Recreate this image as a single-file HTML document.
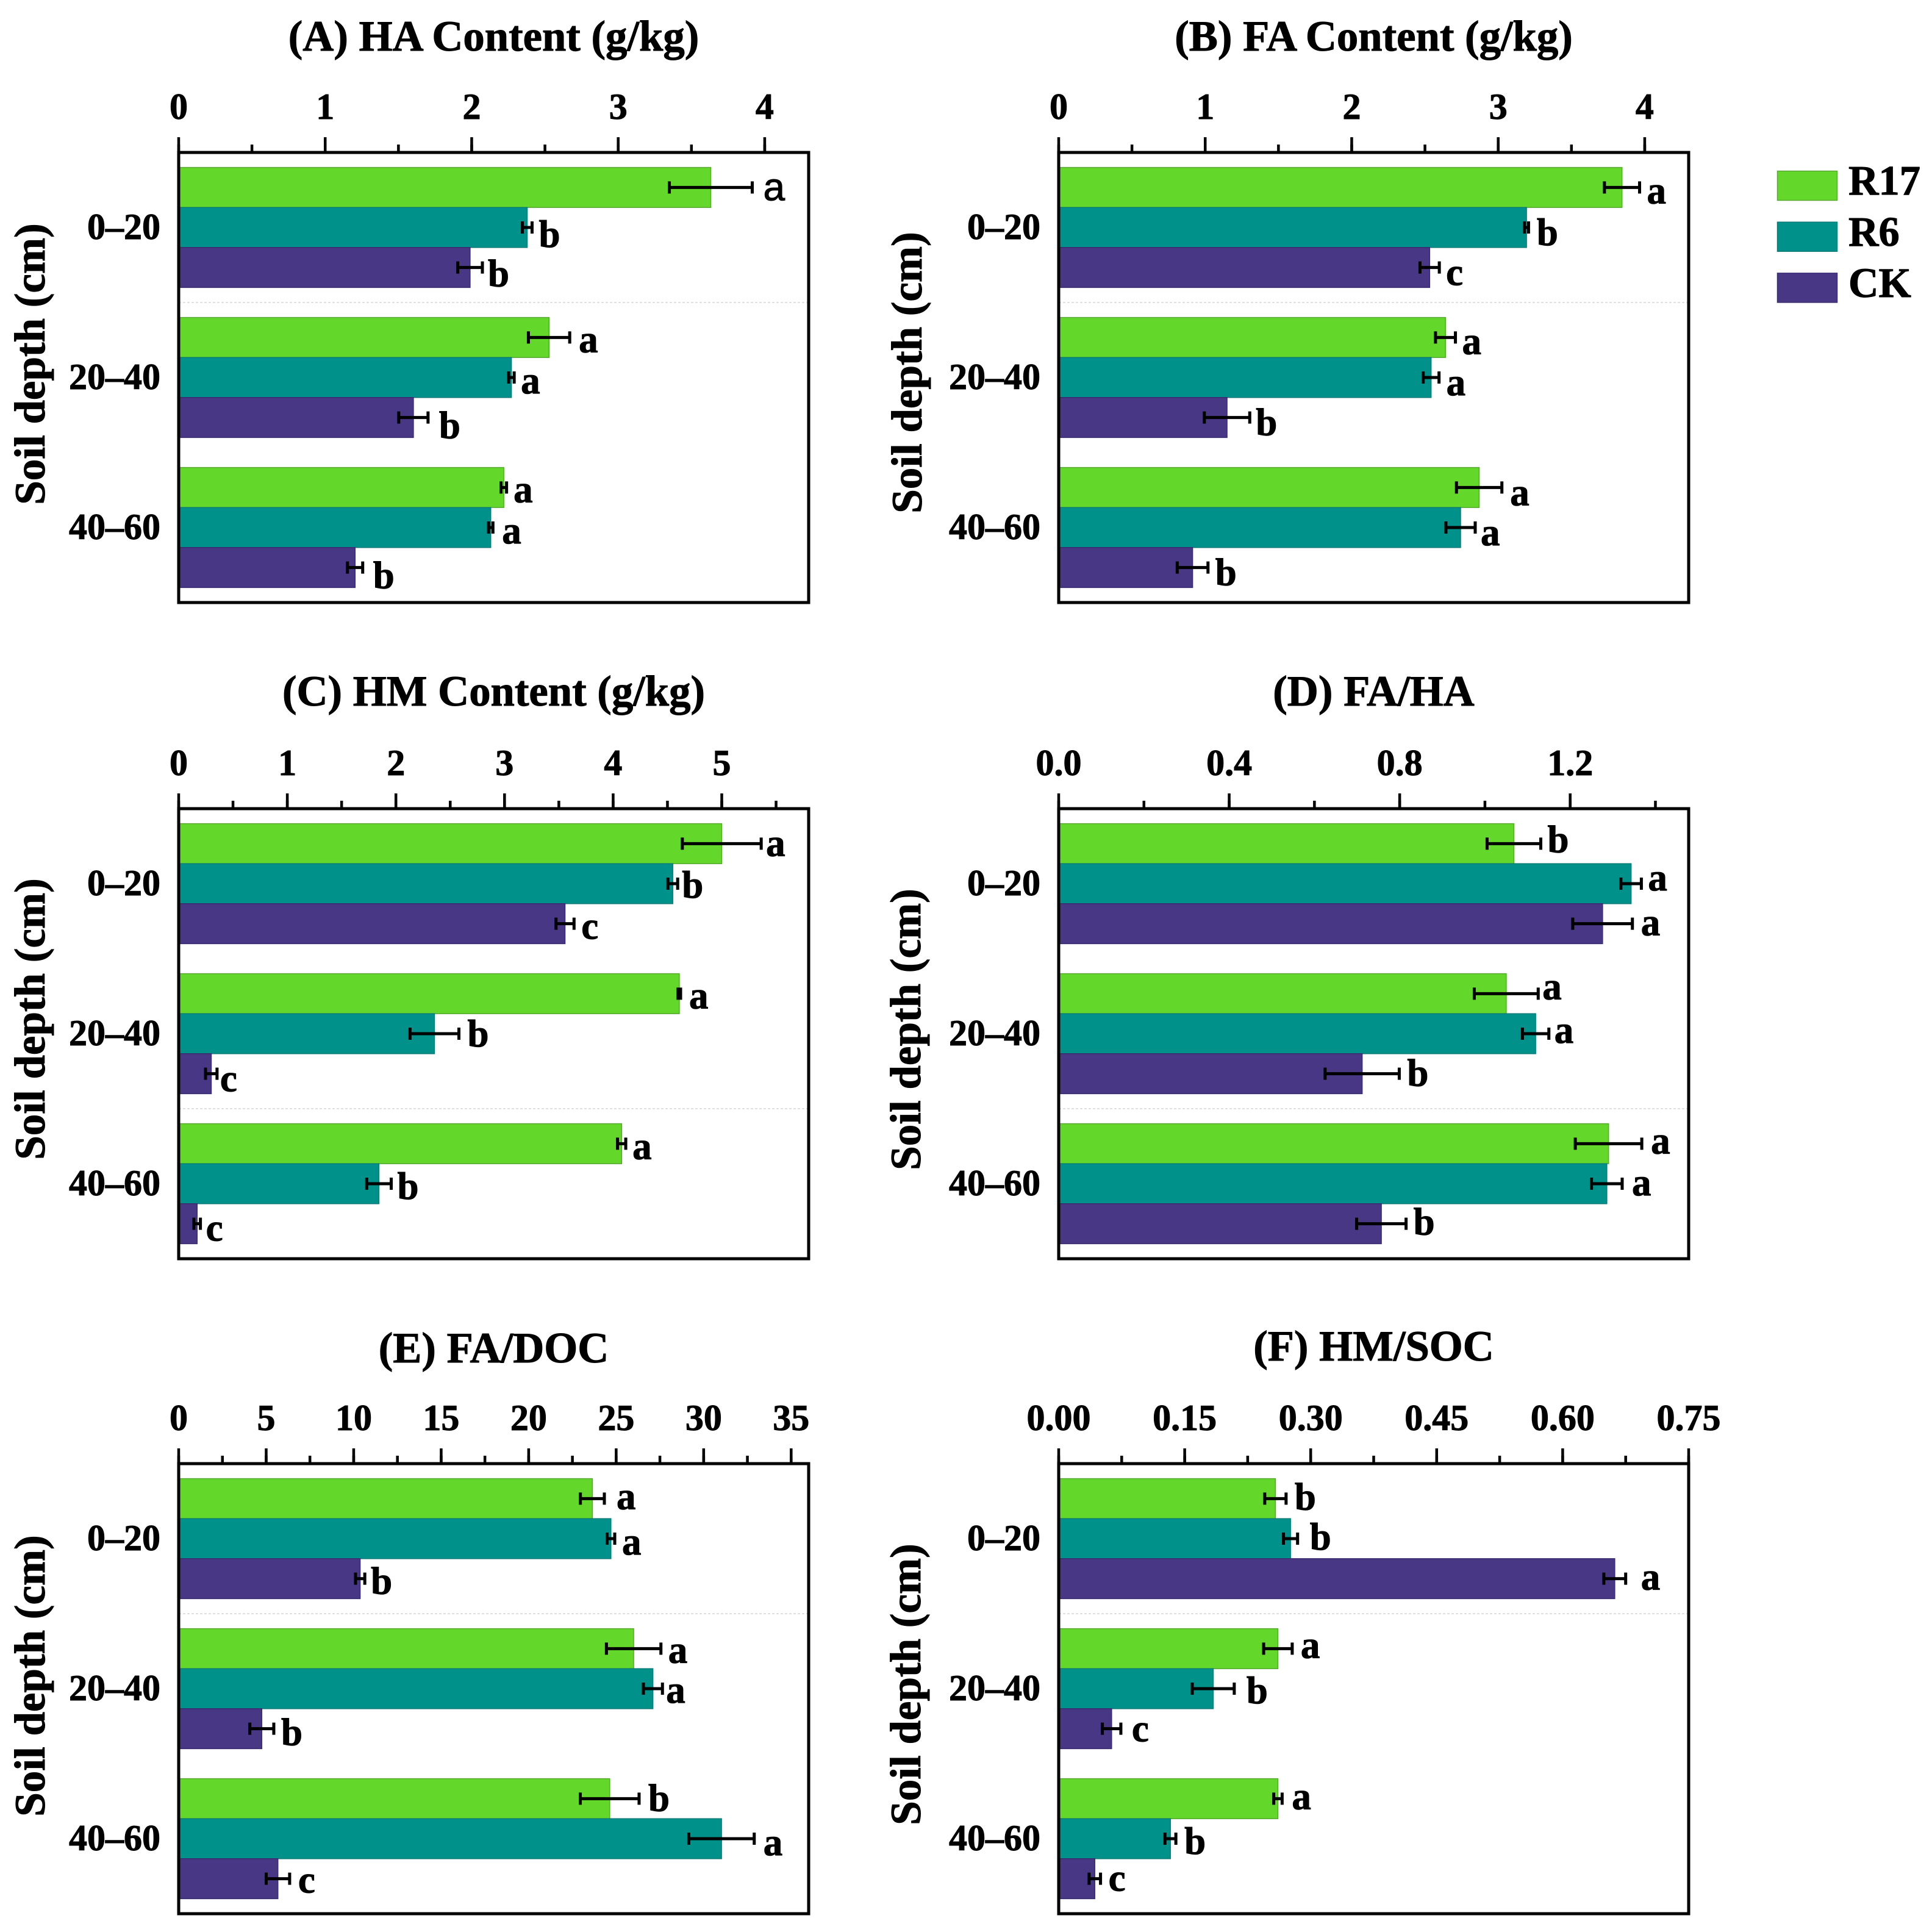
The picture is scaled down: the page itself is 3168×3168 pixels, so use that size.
<!DOCTYPE html>
<html lang="en">
<head>
<meta charset="utf-8">
<title>Soil humus fractions by depth</title>
<style>
  html, body { margin: 0; padding: 0; background: #fff; }
  svg { display: block; }
  text { font-family: "Liberation Serif", serif; font-weight: bold; fill: #000; stroke: #000; stroke-width: 1; }
</style>
</head>
<body>
<svg id="figure" xmlns="http://www.w3.org/2000/svg" width="3168" height="3168" viewBox="0 0 3168 3168"></svg>
<script>
// ---- shared categories / series ----
const depthCategories = ['0–20', '20–40', '40–60'];
const seriesNames = ['R17', 'R6', 'CK'];
const seriesColors = ['#64d82a', '#00918a', '#483784'];
const seriesEdges = ['#58a832', '#0b7a75', '#3a2c70'];

// ---- (A) HA content ----
const haTicks = ['0', '1', '2', '3', '4'];
const haR17 = [3.632, 2.528, 2.219];
const haR6 = [2.379, 2.271, 2.13];
const haCK = [1.989, 1.602, 1.204];
const haR17Err = [0.283, 0.141, 0.019];
const haR6Err = [0.033, 0.019, 0.015];
const haCKErr = [0.084, 0.1, 0.052];
const haLetters = ['a','b','b','a','a','b','a','a','b'];

// ---- (B) FA content ----
const faTicks = ['0', '1', '2', '3', '4'];
const faR17 = [3.845, 2.64, 2.87];
const faR6 = [3.193, 2.542, 2.743];
const faCK = [2.532, 1.149, 0.914];
const faR17Err = [0.12, 0.068, 0.155];
const faR6Err = [0.014, 0.054, 0.1];
const faCKErr = [0.066, 0.155, 0.105];
const faLetters = ['a','b','c','a','a','b','a','a','b'];

// ---- (C) HM content ----
const hmTicks = ['0', '1', '2', '3', '4', '5'];
const hmR17 = [5.0, 4.609, 4.078];
const hmR6 = [4.549, 2.355, 1.844];
const hmCK = [3.557, 0.30, 0.17];
const hmR17Err = [0.363, 0.012, 0.038];
const hmR6Err = [0.045, 0.225, 0.113];
const hmCKErr = [0.083, 0.053, 0.03];
const hmLetters = ['a','b','c','a','b','c','a','b','c'];

// ---- (D) FA/HA ----
const ratioTicks = ['0.0', '0.4', '0.8', '1.2'];
const ratioR17 = [1.068, 1.05, 1.29];
const ratioR6 = [1.343, 1.119, 1.286];
const ratioCK = [1.276, 0.712, 0.757];
const ratioR17Err = [0.063, 0.075, 0.078];
const ratioR6Err = [0.024, 0.031, 0.036];
const ratioCKErr = [0.07, 0.087, 0.058];
const ratioLetters = ['b','a','a','a','a','b','a','a','b'];

// ---- (E) FA/DOC ----
const docTicks = ['0', '5', '10', '15', '20', '25', '30', '35'];
const docR17 = [23.64, 26.0, 24.63];
const docR6 = [24.7, 27.1, 31.02];
const docCK = [10.37, 4.75, 5.67];
const docR17Err = [0.685, 1.557, 1.68];
const docR6Err = [0.218, 0.545, 1.87];
const docCKErr = [0.265, 0.685, 0.67];
const docLetters = ['a','a','b','a','a','b','b','a','c'];

// ---- (F) HM/SOC ----
const socTicks = ['0.00', '0.15', '0.30', '0.45', '0.60', '0.75'];
const socR17 = [0.258, 0.261, 0.261];
const socR6 = [0.276, 0.184, 0.133];
const socCK = [0.662, 0.063, 0.043];
const socR17Err = [0.0127, 0.017, 0.005];
const socR6Err = [0.0084, 0.025, 0.0065];
const socCKErr = [0.013, 0.011, 0.0068];
const socLetters = ['b','b','a','a','b','c','a','b','c'];

// ---- layout (not data): letter placement relative to the error-bar end ----
const haLetterGap = [18,11,9,15,11,18,11.5,15,17];
const haLetterDrop = [21,32,31,24,26,34,24,26,34];
const faLetterGap = [12,13.5,11,11,12,10,13.5,9,12];
const faLetterDrop = [26,29,29,27,29,29,29,29,29];
const hmLetterGap = [8,7,12,14,14,5,11,10,9];
const hmLetterDrop = [20,23,25,24,21,29,25,25,28];
const ratioLetterGap = [11,11,14,7,9,13,15,16,12];
const ratioLetterDrop = [14,11,19,9,15,20,16,19,18];
const docLetterGap = [20,12,10,12,6,12,15,15,14];
const docLetterDrop = [17,26,25,23,23,27,20,27,23];
const socLetterGap = [14,20,25,14,20,18,16,14,13];
const socLetterDrop = [18,18,18,15,24,21,17,25,20];

const panels = [
  { key:'a', title:'(A) HA Content (g/kg)', left:293, top:250, titleY:83, yTitleX:73, yTitleY:597, xMax:4.3, minorStep:0.5, sep:1, ticks:haTicks,
    values:[haR17,haR6,haCK], errs:[haR17Err,haR6Err,haCKErr], letters:haLetters, gap:haLetterGap, drop:haLetterDrop, sansFirst:true },
  { key:'b', title:'(B) FA Content (g/kg)', left:1736, top:250, titleY:83, yTitleX:1511, yTitleY:611, xMax:4.3, minorStep:0.5, sep:1, ticks:faTicks,
    values:[faR17,faR6,faCK], errs:[faR17Err,faR6Err,faCKErr], letters:faLetters, gap:faLetterGap, drop:faLetterDrop },
  { key:'c', title:'(C) HM Content (g/kg)', left:293, top:1326, titleY:1157, yTitleX:73, yTitleY:1671, xMax:5.8, minorStep:0.5, sep:2, ticks:hmTicks,
    values:[hmR17,hmR6,hmCK], errs:[hmR17Err,hmR6Err,hmCKErr], letters:hmLetters, gap:hmLetterGap, drop:hmLetterDrop },
  { key:'d', title:'(D) FA/HA', left:1736, top:1326, titleY:1157, yTitleX:1509, yTitleY:1688, xMax:1.478, minorStep:0.2, sep:2, ticks:ratioTicks,
    values:[ratioR17,ratioR6,ratioCK], errs:[ratioR17Err,ratioR6Err,ratioCKErr], letters:ratioLetters, gap:ratioLetterGap, drop:ratioLetterDrop },
  { key:'e', title:'(E) FA/DOC', left:293, top:2400, titleY:2234, yTitleX:73, yTitleY:2748, xMax:36, minorStep:2.5, sep:1, ticks:docTicks,
    values:[docR17,docR6,docCK], errs:[docR17Err,docR6Err,docCKErr], letters:docLetters, gap:docLetterGap, drop:docLetterDrop },
  { key:'f', title:'(F) HM/SOC', left:1736, top:2400, titleY:2231, yTitleX:1509, yTitleY:2762, xMax:0.75, minorStep:0.075, sep:1, ticks:socTicks,
    values:[socR17,socR6,socCK], errs:[socR17Err,socR6Err,socCKErr], letters:socLetters, gap:socLetterGap, drop:socLetterDrop }
];

const FRAME_W = 1033, FRAME_H = 738;
const SVGNS = 'http://www.w3.org/2000/svg';
const svg = document.getElementById('figure');

function make(parent, tag, props, content) {
  const node = document.createElementNS(SVGNS, tag);
  for (const k in props) node.setAttribute(k, props[k]);
  if (content !== undefined) node.textContent = content;
  parent.appendChild(node);
  return node;
}

panels.forEach(function (p) {
  const xScale = function (v) { return p.left + v / p.xMax * FRAME_W; };
  const band = FRAME_H / depthCategories.length;
  const barH = band * 0.8 / seriesNames.length;
  const bandPad = band * 0.1;

  const group = make(svg, 'g', {});
  
  

  const title = make(group, 'text', { x: p.left + FRAME_W / 2, y: p.titleY, 'text-anchor': 'middle', 'font-size': 70.7 }, p.title);
  
  

  const yTitle = make(group, 'text', { 'text-anchor': 'middle', 'font-size': 71, transform: 'translate(' + p.yTitleX + ' ' + p.yTitleY + ') rotate(-90)' }, 'Soil depth (cm)');
  
  

  // separator
  const sepY = p.top + band * p.sep;
  const sep = make(group, 'line', { x1: p.left, x2: p.left + FRAME_W, y1: sepY, y2: sepY, stroke: '#d6d6d6', 'stroke-width': 1.5, 'stroke-dasharray': '4 3' });
  
  

  // bars
  depthCategories.forEach(function (cat, i) {
    seriesNames.forEach(function (name, s) {
      const v = p.values[s][i];
      const y = p.top + band * i + bandPad + barH * s;
      const bar = make(group, 'rect', { x: p.left, y: y, width: xScale(v) - p.left, height: barH, fill: seriesColors[s], stroke: seriesEdges[s], 'stroke-width': 1.5 });
      
      
    });
  });

  // error bars and significance letters
  depthCategories.forEach(function (cat, i) {
    seriesNames.forEach(function (name, s) {
      const v = p.values[s][i], e = p.errs[s][i];
      const cy = p.top + band * i + bandPad + barH * (s + 0.5);
      const lo = xScale(v - e), hi = xScale(v + e);
      const err = make(group, 'path', { d: 'M' + lo + ' ' + cy + 'H' + hi + 'M' + lo + ' ' + (cy - 10) + 'V' + (cy + 10) + 'M' + hi + ' ' + (cy - 10) + 'V' + (cy + 10), stroke: '#000', 'stroke-width': 5, fill: 'none' });
      
      

      const idx = i * 3 + s;
      const sans = p.sansFirst && idx === 0;
      const letter = make(group, 'text', { x: hi + p.gap[idx], y: cy + p.drop[idx], 'font-size': sans ? 64 : 63 }, p.letters[idx]);
      if (sans) {
        letter.style.fontFamily = '"Liberation Sans", sans-serif';
        letter.style.fontWeight = 'normal';
      }
      
      
    });
  });

  // frame
  const frame = make(group, 'rect', { x: p.left, y: p.top, width: FRAME_W, height: FRAME_H, fill: 'none', stroke: '#000', 'stroke-width': 5 });
  
  

  // minor ticks
  const minorCount = Math.floor(p.xMax / p.minorStep + 1e-6);
  for (let k = 0; k <= minorCount; k++) {
    const x = xScale(k * p.minorStep);
    const t = make(group, 'line', { x1: x, x2: x, y1: p.top, y2: p.top - 13, stroke: '#000', 'stroke-width': 4.5 });
    
    
  }

  // major ticks and labels
  p.ticks.forEach(function (label) {
    const x = xScale(Number(label));
    const t = make(group, 'line', { x1: x, x2: x, y1: p.top, y2: p.top - 25, stroke: '#000', 'stroke-width': 4.5 });
    
    
    const l = make(group, 'text', { x: x, y: p.top - 55, 'text-anchor': 'middle', 'font-size': 60 }, label);
    
    
  });

  // category labels
  depthCategories.forEach(function (cat, i) {
    const l = make(group, 'text', { x: p.left - 30, y: p.top + band * (i + 0.5) + 19, 'text-anchor': 'end', 'font-size': 60 }, cat);
    
    
  });
});

// legend
const legend = make(svg, 'g', {});


seriesNames.forEach(function (name, s) {
  const swatch = make(legend, 'rect', { x: 2914.5, y: 280.5 + s * 83.7, width: 98, height: 48, fill: seriesColors[s], stroke: seriesEdges[s], 'stroke-width': 1.5 });
  
  
  const label = make(legend, 'text', { x: 3031, y: 319 + s * 84, 'font-size': 68.5 }, name);
  
  
});
</script>
</body>
</html>
